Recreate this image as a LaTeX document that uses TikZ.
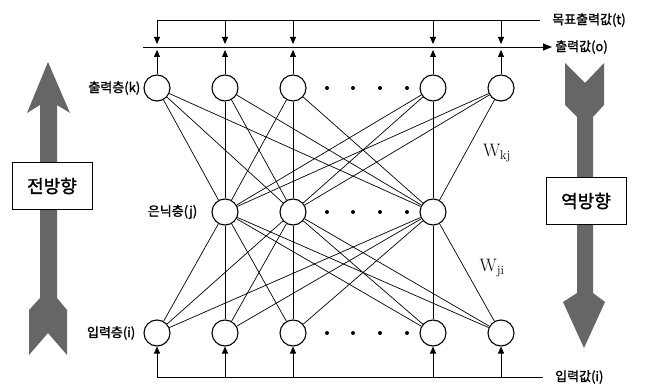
\documentclass[tikz,border=0pt]{standalone}
\usepackage{fontspec}
\newfontfamily\kr{Noto Sans CJK KR}[FakeBold=1.6]
\usetikzlibrary{arrows.meta,positioning}

\tikzset{
  neuron/.style={draw,line width=1.1pt,circle,minimum size=26pt,inner sep=0pt},
  link/.style={black,line width=0.7pt},
  feed/.style={-{Triangle[length=7pt,width=6pt]},line width=0.8pt,shorten >=3pt},
  lbl/.style={font=\kr\fontsize{13}{13}\selectfont,inner sep=0pt},
  dirbox/.style={draw,line width=0.8pt,fill=white,font=\kr\fontsize{18}{18}\selectfont,minimum width=80pt,minimum height=47pt},
  bigarrow/.style={fill=black!60,draw=none}
}

\begin{document}
\begin{tikzpicture}[x=1pt,y=-1pt]
\useasboundingbox (0,0) rectangle (656,390);
% direction arrows
\fill[bigarrow] (48,62) -- (70,113) -- (57,105) -- (57,298) -- (67,310) -- (67,355)
  -- (48,333) -- (29,355) -- (29,310) -- (40,298) -- (40,105) -- (27,113) -- cycle;
\fill[bigarrow] (565,63) -- (585,83) -- (604,63) -- (604,105) -- (593,117) -- (593,293)
  -- (605,302) -- (584,348) -- (563,302) -- (577,293) -- (577,117) -- (565,105) -- cycle;
\node[dirbox] (fwd) at (52,186) {전방향};
\node[dirbox] (bwd) at (586,201) {역방향};

% layers
\foreach \n/\x in {1/157,2/225,3/293,4/433,5/501}{
  \node[neuron] (o\n) at (\x,88) {};
  \node[neuron] (i\n) at (\x,333) {};
  \coordinate (t\n) at (\x,20);
  \coordinate (p\n) at (\x,47);
  \coordinate (b\n) at (\x,377);
}
\foreach \n/\x in {1/225,2/293,3/433}
  \node[neuron] (h\n) at (\x,212) {};
\foreach \y in {88,212,333}
  \foreach \x in {327,353,380,407}
    \fill (\x,\y) circle (2pt);

% weights
\foreach \a in {1,...,5}
  \foreach \b in {1,2,3}{
    \draw[link] (o\a) -- (h\b);
    \draw[link] (h\b) -- (i\a);
  }

% target, output and input lines
\coordinate (tgtR) at (540,20);
\coordinate (outL) at (143,47);
\coordinate (outR) at (552,47);
\coordinate (inR) at (543,377);
\draw[line width=0.8pt] (t1) -- (tgtR);
\draw[line width=0.8pt,-{Triangle[length=9pt,width=7pt]}] (outL) -- (outR);
\draw[line width=0.8pt] (b1) -- (inR);
\foreach \n in {1,...,5}{
  \draw[feed] (t\n) -- (p\n);
  \draw[feed] (o\n) -- (p\n);
  \draw[feed,shorten >=0pt] (b\n) -- (i\n);
}

% labels
\node[lbl,left=3pt of o1] (lk) {출력층(k)};
\node[lbl,left=14pt of h1] (lj) {은닉층(j)};
\node[lbl,left=8pt of i1] (li) {입력층(i)};
\node[lbl,right=12pt of tgtR] (lt) {목표출력값(t)};
\node[lbl,right=3pt of outR] (lo) {출력값(o)};
\node[lbl,right=12pt of inR] (lin) {입력값(i)};
\node[font=\fontsize{18}{18}\selectfont] (wkj) at (497,153) {W$_{\mathrm{kj}}$};
\node[font=\fontsize{18}{18}\selectfont] (wji) at (492,268) {W$_{\mathrm{ji}}$};
\end{tikzpicture}
\end{document}
